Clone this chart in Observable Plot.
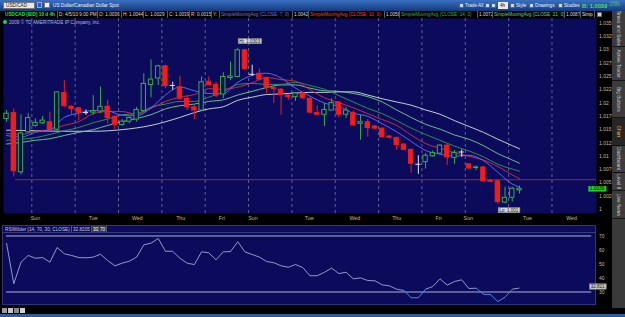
<!DOCTYPE html>
<html>
<head>
<meta charset="utf-8">
<script src="https://cdn.jsdelivr.net/npm/d3@7"></script>
<script src="https://cdn.jsdelivr.net/npm/@observablehq/plot@0.6"></script>
<style>
  html, body { margin:0; padding:0; background:#000; }
  #root { position:relative; width:625px; height:317px; overflow:hidden; background:#000; font-family:"Liberation Sans", Arial, sans-serif; }
  .a { position:absolute; white-space:nowrap; overflow:hidden; box-sizing:border-box; }
  #root svg { overflow:visible; }
  .sc { display:block; width:max-content; font-size:6px; line-height:inherit; transform-origin:0 50%; transform:scale(0.78); }
  .lg { top:11px; height:7px; line-height:7px; color:#dcdcdc; border-right:1px solid #5a5a5a; padding-left:1px; }
  .tab { left:612px; width:13px; color:#cfcfcf; background:#3c3c3c; border-bottom:1px solid #151515; display:flex; align-items:center; justify-content:center; }
  .vt { display:block; writing-mode:vertical-rl; font-size:6px; line-height:6px; transform:scale(0.8); transform-origin:50% 50%; flex:none; }
  .tb { top:2px; height:7px; line-height:7px; color:#eef2ff; }
  .ic { width:5px; height:5px; top:3px; background:#c9d6ee; border:1px solid #566; }
</style>
</head>
<body>
<div id="root">
  <div id="topbar" class="a" style="left:0;top:0;width:625px;height:11px;background:linear-gradient(#3b70c2,#123b7e);"></div>
  <div class="a" style="left:3px;top:2px;width:32px;height:7px;background:#e8e8e8;border:1px solid #777;line-height:5px;color:#111;padding-left:2px;"><span class="sc">USD/CAD</span></div>
  <div class="a" style="left:37px;top:2px;width:5px;height:6px;background:#2756d6;border:1px solid #9ab;"></div>
  <div class="a" style="left:44px;top:2px;width:6px;height:6px;background:#f0f0f0;border:1px solid #777;"></div>
  <div class="a tb" style="left:53px;"><span class="sc">US Dollar/Canadian Dollar Spot</span></div>
  <div class="a ic" style="left:459px;"></div><div class="a tb" style="left:465px;"><span class="sc">Trade All</span></div>
  <div class="a ic" style="left:485px;"></div><div class="a ic" style="left:491px;"></div>
  <div class="a" style="left:498px;top:2px;width:10px;height:7px;background:#e8e8e8;line-height:7px;color:#111;padding-left:2px;"><span class="sc">4h</span></div>
  <div class="a ic" style="left:510px;"></div><div class="a tb" style="left:516px;"><span class="sc">Style</span></div>
  <div class="a ic" style="left:529px;"></div><div class="a tb" style="left:535px;"><span class="sc">Drawings</span></div>
  <div class="a ic" style="left:558px;"></div><div class="a tb" style="left:564px;"><span class="sc">Studies</span></div>
  <div class="a" style="left:582px;top:1px;height:9px;line-height:9px;font-weight:bold;color:#3ee63e;"><span class="sc" style="font-size:7px;transform:scale(0.82);">B: 1.0039</span></div>
  <div class="a" style="left:609px;top:1px;width:16px;height:10px;line-height:5px;color:#5adc5a;"><span class="sc" style="transform:scale(0.55);transform-origin:0 0;">+.0031<br>+0.31%</span></div>

  <div id="legend"></div>
  <div class="a" style="left:597px;top:12px;width:5px;height:5px;background:#cfcfcf;border:1px solid #666;"></div>

  <div id="rsipanel" class="a" style="left:2px;top:225px;width:594px;height:80px;background:#0c0b5b;border:1px solid #34347a;"></div>

  <div id="pricewrap" class="a" style="left:0;top:18px;width:612px;height:203px;overflow:visible;"></div>
  <div id="rsiwrap" class="a" style="left:0;top:225px;width:612px;height:80px;overflow:visible;"></div>

  <div class="a" style="left:3px;top:20px;width:4px;height:4px;border-radius:50%;background:#3cc43c;"></div>
  <div class="a" style="left:9px;top:19px;height:6px;line-height:6px;color:#b8b8cc;"><span class="sc">2009 © TD AMERITRADE IP Company, Inc.</span></div>

  <div id="rsihead"></div>

  <div class="a" style="left:612px;top:11px;width:13px;height:297px;background:#3a3a3a;"></div>
  <div id="tabs"></div>

  <div class="a" style="left:0;top:314px;width:625px;height:3px;background:#2d5d9d;"></div>
  <div class="a" style="left:2px;top:308px;width:5px;height:5px;background:#9a9a9a;"></div>
  <div class="a" style="left:8px;top:308px;width:5px;height:5px;background:#c8c8c8;"></div>
  <div class="a" style="left:14px;top:308px;width:5px;height:5px;background:#8a8a8a;"></div>
  <div class="a" style="left:20px;top:308px;width:5px;height:5px;background:#d0d0d0;"></div>
</div>
<script>
// ---------------- data ----------------
const open = [1.0170,1.0181,1.0070,1.0145,1.0157,1.0162,1.0164,1.0150,1.0219,1.0193,
1.0190,1.0182,1.0182,1.0184,1.0193,1.0174,1.0159,1.0165,1.0169,1.0185,
1.0234,1.0246,1.0269,1.0233,1.0230,1.0208,1.0192,1.0186,1.0240,1.0234,
1.0216,1.0247,1.0249,1.0299,1.0254,1.0255,1.0247,1.0228,1.0225,1.0214,
1.0211,1.0218,1.0208,1.0181,1.0178,1.0186,1.0201,1.0178,1.0181,1.0161,
1.0164,1.0156,1.0152,1.0137,1.0134,1.0122,1.0112,1.0085,1.0089,1.0100,
1.0105,1.0120,1.0097,1.0108,1.0085,1.0078,1.0079,1.0054,1.0053,1.0013,
1.0022,1.0036];
const high = [1.0186,1.0189,1.0178,1.0180,1.0170,1.0175,1.0183,1.0221,1.0242,1.0195,
1.0191,1.0187,1.0214,1.0230,1.0205,1.0177,1.0169,1.0174,1.0192,1.0255,
1.0281,1.0271,1.0271,1.0239,1.0250,1.0214,1.0195,1.0249,1.0249,1.0239,
1.0257,1.0277,1.0303,1.0300,1.0271,1.0264,1.0249,1.0230,1.0227,1.0217,
1.0220,1.0220,1.0209,1.0195,1.0199,1.0208,1.0203,1.0192,1.0185,1.0177,
1.0169,1.0158,1.0153,1.0139,1.0136,1.0123,1.0114,1.0101,1.0105,1.0110,
1.0122,1.0123,1.0111,1.0112,1.0086,1.0082,1.0081,1.0056,1.0054,1.0042,
1.0042,1.0044];
const low = [1.0164,1.0061,1.0065,1.0143,1.0155,1.0160,1.0148,1.0147,1.0192,1.0177,
1.0167,1.0177,1.0177,1.0180,1.0161,1.0150,1.0156,1.0161,1.0164,1.0183,
1.0210,1.0233,1.0227,1.0224,1.0205,1.0186,1.0169,1.0185,1.0232,1.0210,
1.0208,1.0242,1.0247,1.0261,1.0250,1.0242,1.0217,1.0199,1.0177,1.0205,
1.0203,1.0207,1.0180,1.0177,1.0156,1.0185,1.0172,1.0171,1.0156,1.0130,
1.0136,1.0150,1.0134,1.0133,1.0111,1.0111,1.0068,1.0066,1.0076,1.0098,
1.0103,1.0083,1.0085,1.0098,1.0075,1.0073,1.0052,1.0051,1.0010,1.0011,
1.0014,1.0029];
const close = [1.0180,1.0072,1.0143,1.0172,1.0163,1.0167,1.0150,1.0220,1.0194,1.0189,
1.0182,1.0182,1.0185,1.0193,1.0172,1.0159,1.0165,1.0172,1.0187,1.0236,
1.0244,1.0269,1.0232,1.0233,1.0208,1.0192,1.0186,1.0239,1.0234,1.0214,
1.0249,1.0250,1.0299,1.0264,1.0254,1.0244,1.0229,1.0226,1.0215,1.0211,
1.0218,1.0209,1.0182,1.0178,1.0187,1.0200,1.0178,1.0186,1.0158,1.0164,
1.0153,1.0152,1.0136,1.0135,1.0121,1.0112,1.0086,1.0085,1.0101,1.0106,
1.0120,1.0098,1.0106,1.0108,1.0077,1.0079,1.0053,1.0052,1.0014,1.0022,
1.0039,1.0039];

// moving averages read at sampled candles
const maIdx = [0,2,4,6,8,10,12,14,16,18,20,22,24,26,28,30,32,34,36,38,40,42,44,46,48,50,52,54,56,58,60,62,64,66,68,70,71];
const sma7  = [1.0139,1.0136,1.0145,1.0150,1.0173,1.0181,1.0186,1.0185,1.0177,1.0176,1.0191,1.0215,1.0230,1.0223,1.0218,1.0218,1.0239,1.0252,1.0256,1.0247,1.0228,1.0213,1.0200,1.0193,1.0181,1.0175,1.0161,1.0146,1.0128,1.0111,1.0104,1.0100,1.0102,1.0092,1.0070,1.0048,1.0042];
const sma10 = [1.0143,1.0141,1.0147,1.0150,1.0158,1.0165,1.0180,1.0184,1.0184,1.0179,1.0190,1.0203,1.0211,1.0216,1.0227,1.0226,1.0230,1.0238,1.0248,1.0244,1.0241,1.0225,1.0210,1.0201,1.0191,1.0180,1.0169,1.0158,1.0140,1.0124,1.0115,1.0107,1.0100,1.0093,1.0081,1.0065,1.0058];
const sma14 = [1.0130,1.0132,1.0135,1.0141,1.0148,1.0154,1.0163,1.0170,1.0178,1.0180,1.0192,1.0198,1.0203,1.0203,1.0211,1.0221,1.0235,1.0237,1.0235,1.0235,1.0239,1.0233,1.0226,1.0214,1.0202,1.0190,1.0180,1.0167,1.0153,1.0141,1.0130,1.0119,1.0110,1.0099,1.0085,1.0076,1.0072];
const sma21 = [1.0123,1.0126,1.0130,1.0133,1.0139,1.0145,1.0150,1.0158,1.0165,1.0171,1.0178,1.0189,1.0195,1.0198,1.0203,1.0206,1.0215,1.0222,1.0229,1.0234,1.0234,1.0228,1.0223,1.0222,1.0218,1.0212,1.0202,1.0187,1.0173,1.0160,1.0151,1.0140,1.0132,1.0120,1.0105,1.0093,1.0087];
const sma30Idx = [0,4,8,12,16,20,24,26,28,30,32,34,36,38,40,42,44,46,48,50,52,54,56,58,60,62,64,66,68,70,71];
const sma30 = [1.0149,1.0148,1.0147,1.0147,1.0150,1.0158,1.0173,1.0182,1.0189,1.0193,1.0205,1.0211,1.0216,1.0217,1.0219,1.0220,1.0220,1.0221,1.0221,1.0215,1.0208,1.0202,1.0196,1.0187,1.0179,1.0167,1.0156,1.0145,1.0132,1.0120,1.0114];

const rsi = [64.9,35.9,51.3,56.1,54.1,54.6,51.3,61.8,57.3,56.1,
54.6,54.4,54.9,57.0,52.5,48.7,50.6,52.0,54.9,63.7,
64.9,68.2,59.1,59.1,54.1,50.6,49.6,58.7,58.0,53.0,
58.7,58.9,65.9,58.7,56.8,54.9,51.8,50.9,48.7,47.7,
49.6,47.5,41.6,41.6,44.1,47.0,43.2,44.1,39.4,40.1,
38.2,38.0,35.1,34.4,32.0,31.1,25.9,25.9,32.0,33.9,
39.4,34.9,37.5,38.7,32.5,32.7,28.4,28.2,23.2,26.3,
32.0,32.8205];
const rsiLevels = [70, 30];
const rsiTicks = [30, 40, 50, 60, 70];

const priceTicks = [1, 1.0025, 1.005, 1.0075, 1.01, 1.0125, 1.015, 1.0175, 1.02, 1.0225, 1.025, 1.0275, 1.03, 1.0325, 1.035];
const dayBreaks = [3.5, 9.5, 15.5, 21.5, 27.5, 33.5, 39.5, 45.5, 51.5, 57.5, 63.5, 69.5, 75.5];
const dayLabels = ["Sun","Tue","Wed","Thu","Fri","Sun","Tue","Wed","Thu","Fri","Sun","Tue","Wed"];
const dayLabelPos = [4.0, 12.0, 18.1, 24.1, 29.8, 34.1, 41.9, 48.2, 54.0, 59.8, 63.9, 72.1, 78.2];
const refLevel = 1.0056, refFrom = 1.25;
const hiIdx = 32, loIdx = 68;

const legendItems = [
  ["USDCAD (BID) 10 d 4h", 4, 54, "#3be03b"],
  ["D: 4/5/10 9:00 PM", 58, 40, "#dcdcdc"],
  ["O: 1.0036", 98, 24, "#dcdcdc"],
  ["H: 1.0044", 122, 22, "#dcdcdc"],
  ["L: 1.0029", 144, 24, "#dcdcdc"],
  ["C: 1.0039", 168, 22, "#dcdcdc"],
  ["R: 0.0015", 190, 22, "#dcdcdc"],
  ["Y:", 212, 8, "#dcdcdc"],
  ["SimpleMovingAvg (CLOSE, 7, 0)", 220, 73, "#7272ff"],
  ["1.0042", 293, 16, "#dcdcdc"],
  ["SimpleMovingAvg (CLOSE, 10, 0)", 309, 76, "#ff3a3a"],
  ["1.0058", 385, 15, "#dcdcdc"],
  ["SimpleMovingAvg (CLOSE, 14, 0)", 400, 78, "#2fb55a"],
  ["1.0072", 478, 15, "#dcdcdc"],
  ["SimpleMovingAvg (CLOSE, 21, 0)", 493, 72, "#62d882"],
  ["1.0087", 565, 16, "#dcdcdc"],
  ["Simp", 581, 14, "#e0e0e0"]
];
const rsiHeadItems = [
  ["RSIWilder (14, 70, 30, CLOSE)", 4, 68, "#c8c8dc", "#0c0b5b"],
  ["32.8205", 72, 20, "#c8c8dc", "#0c0b5b"],
  ["30", 92, 7, "#ffffff", "#3a3a3a"],
  ["70", 99, 8, "#ffffff", "#3a3a3a"]
];
const tabs = [
  ["Times and Sales", 11, 36, false],
  ["Active Trader", 47, 34, false],
  ["Big Buttons", 81, 37, false],
  ["Chart", 118, 28, true],
  ["Dashboard", 146, 27, false],
  ["Level II", 173, 18, false],
  ["Live News", 191, 28, false]
];

// ---------------- html decorations ----------------
function scaledSpan(t, cls) {
  const s = document.createElement("span");
  s.className = cls || "sc";
  s.textContent = t;
  return s;
}
const legend = document.getElementById("legend");
legendItems.forEach(([t, x, w, c], k) => {
  const d = document.createElement("div");
  d.className = "a lg";
  d.style.left = x + "px"; d.style.width = w + "px"; d.style.color = c;
  if (k === 0) d.style.fontWeight = "bold";
  d.appendChild(scaledSpan(t));
  legend.appendChild(d);
});
const rh = document.getElementById("rsihead");
rsiHeadItems.forEach(([t, x, w, c, bg]) => {
  const d = document.createElement("div");
  d.className = "a";
  Object.assign(d.style, {left: x + "px", top: "226px", width: w + "px", height: "6px", lineHeight: "6px", color: c, background: bg, borderRight: "1px solid #55557a", paddingLeft: "1px"});
  d.appendChild(scaledSpan(t));
  rh.appendChild(d);
});
const sep = document.createElement("div");
sep.className = "a";
Object.assign(sep.style, {left: "3px", top: "232px", width: "593px", height: "1px", background: "#3a3a80"});
rh.appendChild(sep);
const tabsEl = document.getElementById("tabs");
tabs.forEach(([t, y, h, on]) => {
  const d = document.createElement("div");
  d.className = "a tab";
  d.style.top = y + "px"; d.style.height = h + "px";
  if (on) { d.style.color = "#f2b632"; d.style.background = "#262626"; }
  d.appendChild(scaledSpan(t, "vt"));
  tabsEl.appendChild(d);
});

// ---------------- charts ----------------
const navy = "#0c0b5b";
const xDomain = [-0.42, 81.66];
const candles = open.map((o, i) => ({i, o, h: high[i], l: low[i], c: close[i],
  kind: close[i] > o ? "up" : close[i] < o ? "down" : "doji"}));
const kindColor = {up: "#37ad49", down: "#f21c1c", doji: "#e4e4e4"};
const bodies = candles.filter(d => d.kind !== "doji");
const dojis = candles.filter(d => d.kind === "doji");
const maSeries = [
  {idx: sma30Idx, vals: sma30, color: "#d3e6da"},
  {idx: maIdx, vals: sma21, color: "#72d08f"},
  {idx: maIdx, vals: sma14, color: "#2f9a55"},
  {idx: maIdx, vals: sma10, color: "#d43048"},
  {idx: maIdx, vals: sma7, color: "#6a6cff"}
];
const font = "Liberation Sans, Arial, sans-serif";
const axisColor = "#cbbd9c";

const price = Plot.plot({
  width: 612, height: 203,
  marginLeft: 3, marginRight: 16, marginTop: 0, marginBottom: 8,
  style: {background: "transparent", overflow: "visible", fontFamily: font},
  x: {type: "linear", domain: xDomain, axis: null},
  y: {type: "linear", domain: [0.99925, 1.03588], axis: null},
  color: {type: "identity"},
  marks: [
    Plot.frame({fill: navy}),
    Plot.ruleX(dayBreaks, {x: d => d, stroke: "#8a8ab0", strokeOpacity: 0.85, strokeDasharray: "3,3", strokeWidth: 0.8}),
    Plot.ruleY([{y: refLevel, x1: refFrom, x2: xDomain[1]}], {y: "y", x1: "x1", x2: "x2", stroke: "#a02a40", strokeWidth: 0.9}),
    ...maSeries.map(s => Plot.line(s.idx.map((x, k) => ({x, y: s.vals[k]})),
      {x: "x", y: "y", stroke: s.color, strokeWidth: 0.9, curve: "monotone-x"})),
    Plot.ruleX(candles, {x: "i", y1: "l", y2: "h", stroke: d => kindColor[d.kind], strokeWidth: 1}),
    Plot.rect(bodies, {x1: d => d.i - 0.3, x2: d => d.i + 0.3, y1: "o", y2: "c",
      fill: d => d.kind === "up" ? navy : kindColor.down, stroke: d => kindColor[d.kind], strokeWidth: 1}),
    Plot.ruleY(dojis, {y: "c", x1: d => d.i - 0.36, x2: d => d.i + 0.36, stroke: kindColor.doji, strokeWidth: 1}),
    Plot.text(priceTicks, {y: d => d, text: d => String(d), frameAnchor: "right", dx: 2.5, textAnchor: "start", fill: axisColor, fontSize: 5, fontFamily: font}),
    Plot.text(dayLabelPos, {x: d => d, text: (d, i) => dayLabels[i], frameAnchor: "bottom", dy: 6, fill: "#c9b48e", fontSize: 5.2, fontFamily: font}),
    Plot.text([{x: hiIdx, y: high[hiIdx]}], {x: "x", y: "y", text: d => "Hi: " + d.y, dx: 12, dy: -7, fill: "#151515", fontSize: 4.6, fontFamily: font}),
    Plot.text([{x: loIdx, y: low[loIdx]}], {x: "x", y: "y", text: d => "Lo: " + d.y, dx: 11, dy: 6, fill: "#151515", fontSize: 4.6, fontFamily: font}),
    Plot.text([close[close.length - 1]], {y: d => d, text: d => d.toFixed(4), frameAnchor: "right", dx: 8, fill: "#000", fontSize: 4.8, fontFamily: font})
  ]
});
document.getElementById("pricewrap").appendChild(price);

const rsiPts = rsi.map((v, i) => ({i, v}));
const rsiSegs = d3.pairs(rsiPts).map(([a, b]) => ({x1: a.i, y1: a.v, x2: b.i, y2: b.v, low: a.v < 30 || b.v < 30}));

const rsiChart = Plot.plot({
  width: 612, height: 80,
  marginLeft: 3, marginRight: 16, marginTop: 7, marginBottom: 1,
  style: {background: "transparent", overflow: "visible", fontFamily: font},
  x: {type: "linear", domain: xDomain, axis: null},
  y: {type: "linear", domain: [21.07, 72.5], axis: null},
  color: {type: "identity"},
  marks: [
    Plot.ruleY(rsiLevels, {y: d => d, x1: () => 0, x2: () => 81, stroke: "#c4c6dc", strokeWidth: 0.9}),
    Plot.link(rsiSegs, {x1: "x1", y1: "y1", x2: "x2", y2: "y2", stroke: d => d.low ? "#3f9cff" : "#a3a6d8", strokeWidth: 0.9}),
    Plot.text(rsiTicks, {y: d => d, text: d => String(d), frameAnchor: "right", dx: 2.5, textAnchor: "start", fill: axisColor, fontSize: 5, fontFamily: font}),
    Plot.text([rsi[rsi.length - 1]], {y: d => d, text: d => (d + 1e-9).toFixed(3), frameAnchor: "right", dx: 8, dy: -1.5, fill: "#1a1a1a", fontSize: 4.5, fontFamily: font})
  ]
});
document.getElementById("rsiwrap").appendChild(rsiChart);

// label boxes behind specific texts
function boxBehind(svg, pred, fill, stroke, px, py) {
  svg.querySelectorAll("text").forEach(t => {
    if (!pred(t.textContent)) return;
    const b = t.getBBox();
    const r = document.createElementNS("http://www.w3.org/2000/svg", "rect");
    r.setAttribute("x", b.x - px); r.setAttribute("y", b.y - py);
    r.setAttribute("width", b.width + 2 * px); r.setAttribute("height", b.height + 2 * py);
    r.setAttribute("fill", fill);
    if (stroke) { r.setAttribute("stroke", stroke); r.setAttribute("stroke-width", 0.6); }
    const tr = t.getAttribute("transform");
    if (tr) r.setAttribute("transform", tr);
    t.parentNode.insertBefore(r, t);
  });
}
const lastTxt = close[close.length - 1].toFixed(4);
boxBehind(price, s => s.startsWith("Hi:") || s.startsWith("Lo:"), "#d6d6d6", "#8a8a8a", 1, 0);
boxBehind(price, s => s === lastTxt, "#1fd21f", null, 1.5, 0.3);
boxBehind(rsiChart, s => s.includes("."), "#c6c6c6", "#8a8a8a", 1.2, 0.2);
</script>
</body>
</html>
